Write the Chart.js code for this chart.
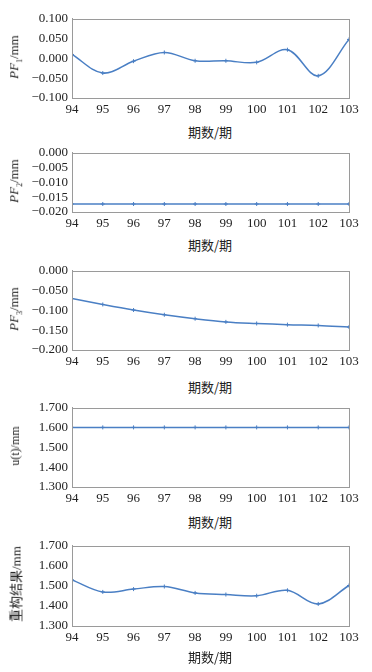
<!DOCTYPE html>
<html>
<head>
<meta charset="utf-8">
<script src="https://cdn.jsdelivr.net/npm/chart.js@4.4.0/dist/chart.umd.min.js"></script>
<style>
  body { margin: 0; background: #fff; width: 372px; height: 672px; position: relative; overflow: hidden; }
  .box { position: absolute; left: 0; width: 372px; }
  .ytitle {
    position: absolute; left: 15px; white-space: nowrap;
    font-family: "Liberation Serif", "Noto Sans CJK SC", serif; font-size: 13px; color: #222;
    transform: translate(-50%, -50%) rotate(-90deg);
  }
  .ytitle sub { font-size: 8px; }
  .xtitle {
    position: absolute; left: 210px; white-space: nowrap;
    font-family: "Noto Sans CJK SC", serif; font-size: 13px; color: #222;
    transform: translate(-50%, -50%);
  }
</style>
</head>
<body>
<script>
// =============================
// DATA
// =============================
const periods = [94, 95, 96, 97, 98, 99, 100, 101, 102, 103];

const pf1 = [0.010, -0.037, -0.007, 0.015, -0.006, -0.006, -0.010, 0.022, -0.044, 0.048];
const pf2 = [-0.0173, -0.0173, -0.0173, -0.0173, -0.0173, -0.0173, -0.0173, -0.0173, -0.0173, -0.0173];
const pf3 = [-0.070, -0.085, -0.099, -0.111, -0.121, -0.129, -0.133, -0.136, -0.138, -0.142];
const ut = [1.601, 1.601, 1.601, 1.601, 1.601, 1.601, 1.601, 1.601, 1.601, 1.601];
const rebuilt = [1.530, 1.470, 1.484, 1.497, 1.465, 1.457, 1.451, 1.478, 1.410, 1.502];

// [min, max, step]
const pf1Ticks = [-0.1, 0.1, 0.05];
const pf2Ticks = [-0.02, 0, 0.005];
const pf3Ticks = [-0.2, 0, 0.05];
const utTicks = [1.3, 1.7, 0.1];
const rebuiltTicks = [1.3, 1.7, 0.1];

const xTitle = "期数/期";

// =============================
// Layout per panel: plot top / bottom, x title offset
// =============================
const panels = [
  { values: pf1, ticks: pf1Ticks, top: 15, bottom: 98, xt: 33, ytitle: '<i>PF</i><sub>1</sub>/mm' },
  { values: pf2, ticks: pf2Ticks, top: 149, bottom: 212, xt: 32, ytitle: '<i>PF</i><sub>2</sub>/mm' },
  { values: pf3, ticks: pf3Ticks, top: 267, bottom: 350, xt: 36, ytitle: '<i>PF</i><sub>3</sub>/mm' },
  { values: ut, ticks: utTicks, top: 404, bottom: 487, xt: 34, ytitle: '<span style="font-size:12px">u(t)/mm</span>' },
  { values: rebuilt, ticks: rebuiltTicks, top: 542, bottom: 626, xt: 30, ytitle: '重构结果/mm' }
];

const PAD_TOP = 8;
const X_AXIS_H = 22;
const PLOT_LEFT = 72;
const PLOT_RIGHT = 349;
const lineColor = "#4a7fc4";
const serif = "'Liberation Serif', 'Times New Roman', serif";
Chart.defaults.font.family = serif;
const tickFont = { family: serif, size: 13 };

panels.forEach(p => {
  const box = document.createElement("div");
  box.className = "box";
  const canvasTop = p.top - PAD_TOP;
  const h = (p.bottom - p.top) + PAD_TOP + X_AXIS_H;
  box.style.top = canvasTop + "px";
  box.style.height = h + "px";
  const canvas = document.createElement("canvas");
  canvas.width = 372;
  canvas.height = h;
  canvas.style.width = "372px";
  canvas.style.height = h + "px";
  box.appendChild(canvas);
  document.body.appendChild(box);

  const yt = document.createElement("div");
  yt.className = "ytitle";
  yt.innerHTML = p.ytitle;
  yt.style.top = ((p.top + p.bottom) / 2) + "px";
  document.body.appendChild(yt);

  const xt = document.createElement("div");
  xt.className = "xtitle";
  xt.textContent = xTitle;
  xt.style.top = (p.bottom + p.xt) + "px";
  document.body.appendChild(xt);

  const [yMin, yMax, yStep] = p.ticks;

  new Chart(canvas, {
    type: "line",
    data: {
      datasets: [{
        data: periods.map((x, i) => ({ x: x, y: p.values[i] })),
        borderColor: lineColor,
        backgroundColor: lineColor,
        borderWidth: 1.5,
        tension: 0.35,
        pointStyle: "cross",
        pointRadius: 2,
        pointBorderWidth: 1,
        fill: false
      }]
    },
    options: {
      responsive: false,
      animation: false,
      devicePixelRatio: 1,
      layout: { padding: { top: PAD_TOP, right: 372 - PLOT_RIGHT, left: 0, bottom: 0 } },
      plugins: { legend: { display: false }, tooltip: { enabled: false } },
      scales: {
        x: {
          type: "linear",
          min: periods[0],
          max: periods[periods.length - 1],
          afterFit: s => { s.height = X_AXIS_H; },
          afterBuildTicks: s => { s.ticks = periods.map(v => ({ value: v })); },
          grid: { display: false, drawTicks: false },
          border: { display: true, color: "#9a9a9a", width: 1 },
          ticks: { font: tickFont, color: "#222", padding: 4, maxRotation: 0, autoSkip: false,
                   callback: v => String(v) }
        },
        y: {
          min: yMin,
          max: yMax,
          afterFit: s => { s.width = PLOT_LEFT; },
          grid: { display: false, drawTicks: false },
          border: { display: true, color: "#9a9a9a", width: 1 },
          ticks: { font: tickFont, color: "#222", padding: 4, stepSize: yStep, autoSkip: false,
                   callback: v => (Math.abs(v) < 1e-9 ? 0 : v).toFixed(3).replace("-", "\u2212") }
        }
      }
    },
    plugins: [{
      id: "frame",
      afterDraw(chart) {
        const a = chart.chartArea;
        const ctx = chart.ctx;
        ctx.save();
        ctx.strokeStyle = "#9a9a9a";
        ctx.lineWidth = 1;
        ctx.strokeRect(Math.round(a.left) + 0.5, Math.round(a.top) + 0.5,
                       Math.round(a.right - a.left), Math.round(a.bottom - a.top));
        ctx.restore();
      }
    }]
  });
});
</script>
</body>
</html>
